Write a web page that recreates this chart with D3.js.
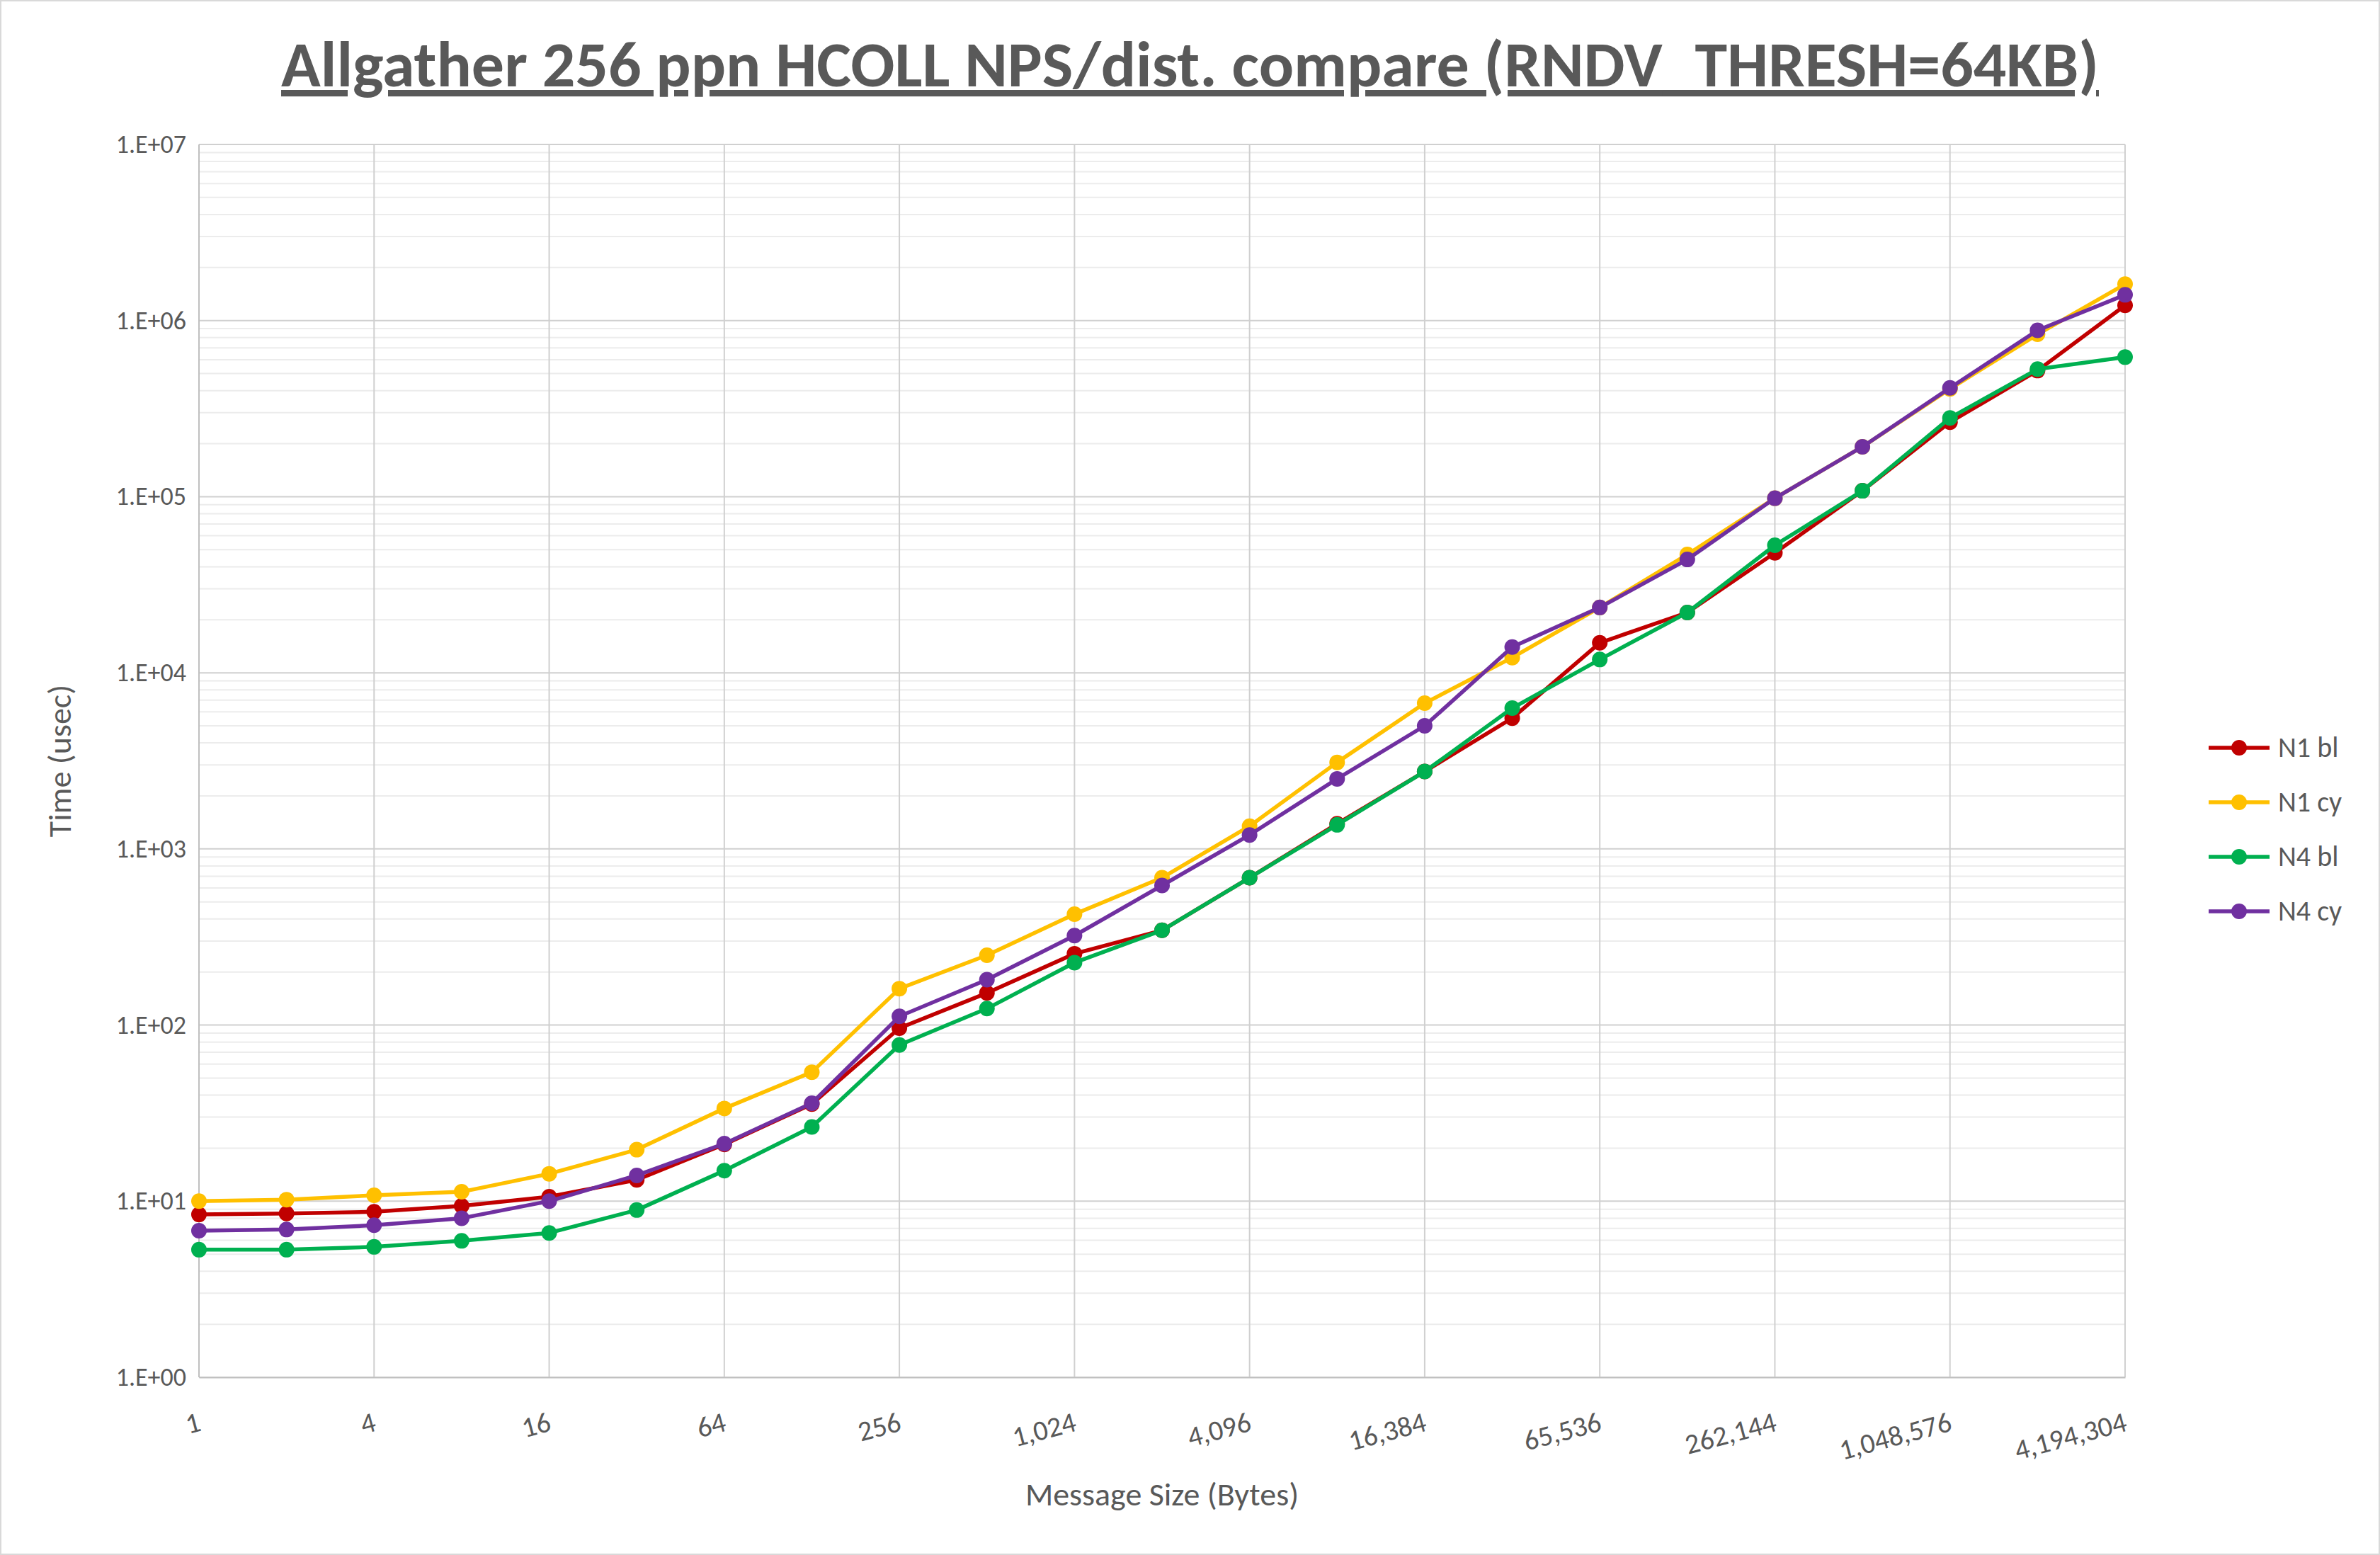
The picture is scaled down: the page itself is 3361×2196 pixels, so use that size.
<!DOCTYPE html>
<html><head><meta charset="utf-8">
<script src="https://cdn.jsdelivr.net/npm/d3@7"></script>
<style>body{margin:0;background:#fff}svg{display:block}</style>
</head><body>
<script>
const sizes = [1,2,4,8,16,32,64,128,256,512,1024,2048,4096,8192,16384,32768,65536,131072,262144,524288,1048576,2097152,4194304];
const tickSizes = [1,4,16,64,256,1024,4096,16384,65536,262144,1048576,4194304];
const yTickLabels = ["1.E+00","1.E+01","1.E+02","1.E+03","1.E+04","1.E+05","1.E+06","1.E+07"];
const seriesNames = ["N1 bl","N1 cy","N4 bl","N4 cy"];
const seriesColors = ["#C00000","#FFC000","#00B050","#7030A0"];
const n1bl = [8.4,8.5,8.7,9.4,10.6,13.2,21,35.6,96,152,254,345,686,1390,2750,5530,14800,22000,48000,108000,265000,520000,1220000];
const n1cy = [10,10.2,10.8,11.3,14.3,19.6,33.6,54,161,249,426,686,1347,3100,6720,12200,23500,47000,98000,192000,409000,836000,1610000];
const n4bl = [5.3,5.3,5.5,5.95,6.6,8.9,14.9,26.4,77,124,226,345,686,1370,2750,6300,11900,22000,53000,108000,280000,530000,620000];
const n4cy = [6.8,6.9,7.3,8.0,10.0,14.0,21.2,36,112,181,322,620,1200,2500,5000,14000,23500,44000,98000,192000,415000,880000,1400000];
const allSeries = [n1bl,n1cy,n4bl,n4cy];

const W=3361,H=2196;
const svg=d3.select("body").append("svg").attr("width",W).attr("height",H);
svg.append("rect").attr("x",1).attr("y",1).attr("width",W-2).attr("height",H-2).attr("fill","#fff").attr("stroke","#d9d9d9").attr("stroke-width",2);
const L=281,R=3001,T=204,B=1945;
const x=d3.scaleLog().base(2).domain([1,4194304]).range([L,R]);
const y=d3.scaleLog().domain([1,1e7]).range([B,T]);
const font="Calibri, Carlito, 'Open Sans', 'Liberation Sans', sans-serif";

const minor=[];
for(let d=0;d<7;d++)for(let m=2;m<=9;m++)minor.push(m*Math.pow(10,d));
svg.append("g").selectAll("line").data(minor).join("line")
 .attr("x1",L).attr("x2",R).attr("y1",d=>y(d)).attr("y2",d=>y(d)).attr("stroke","#ececec").attr("stroke-width",2);
const major=d3.range(0,8).map(d=>Math.pow(10,d));
svg.append("g").selectAll("line").data(major).join("line")
 .attr("x1",L).attr("x2",R).attr("y1",d=>y(d)).attr("y2",d=>y(d)).attr("stroke","#d0d0d0").attr("stroke-width",2);
svg.append("g").selectAll("line").data(tickSizes).join("line")
 .attr("x1",d=>x(d)).attr("x2",d=>x(d)).attr("y1",T).attr("y2",B).attr("stroke","#d0d0d0").attr("stroke-width",2);
svg.append("line").attr("x1",L).attr("x2",L).attr("y1",T).attr("y2",B).attr("stroke","#bfbfbf").attr("stroke-width",2);
svg.append("line").attr("x1",R).attr("x2",R).attr("y1",T).attr("y2",B).attr("stroke","#d0d0d0").attr("stroke-width",2);

const ya=svg.append("g").attr("transform",`translate(${L},0)`).call(d3.axisLeft(y).tickValues(major).tickFormat((d,i)=>yTickLabels[i]).tickSize(0).tickPadding(18));
ya.select(".domain").remove();
ya.selectAll("text").attr("font-family",font).attr("font-size",36).attr("fill","#595959");
const xa=svg.append("g").attr("transform",`translate(0,${B})`).call(d3.axisBottom(x).tickValues(tickSizes).tickFormat(d3.format(",")).tickSize(0).tickPadding(0));
xa.select(".domain").attr("stroke","#bfbfbf").attr("stroke-width",2);
xa.selectAll("text").attr("font-family",font).attr("font-size",40).attr("fill","#595959")
 .attr("text-anchor","end").attr("dy",0).attr("transform","translate(4,75) rotate(-15)");

const line=d3.line().x((d,i)=>x(sizes[i])).y(d=>y(d));
allSeries.forEach((s,k)=>{
 svg.append("path").datum(s).attr("d",line).attr("fill","none").attr("stroke",seriesColors[k]).attr("stroke-width",5.5).attr("stroke-linejoin","round");
 svg.append("g").selectAll("circle").data(s).join("circle").attr("cx",(d,i)=>x(sizes[i])).attr("cy",d=>y(d)).attr("r",11).attr("fill",seriesColors[k]);
});

svg.append("text").attr("x",(W)/2).attr("y",122).attr("text-anchor","middle").attr("font-family",font).attr("font-size",92).attr("font-weight","bold").attr("fill","#595959").attr("text-decoration","underline")
 .text("Allgather 256 ppn HCOLL NPS/dist. compare (RNDV_THRESH=64KB)");
svg.append("text").attr("transform",`translate(100,${(T+B)/2}) rotate(-90)`).attr("text-anchor","middle").attr("font-family",font).attr("font-size",46).attr("fill","#595959").text("Time (usec)");
svg.append("text").attr("x",(L+R)/2).attr("y",2126).attr("text-anchor","middle").attr("font-family",font).attr("font-size",46).attr("fill","#595959").text("Message Size (Bytes)");

seriesNames.forEach((n,k)=>{
 const ly=1056+k*77, lx=3119;
 svg.append("line").attr("x1",lx).attr("x2",lx+86).attr("y1",ly).attr("y2",ly).attr("stroke",seriesColors[k]).attr("stroke-width",5.5);
 svg.append("circle").attr("cx",lx+43).attr("cy",ly).attr("r",11).attr("fill",seriesColors[k]);
 svg.append("text").attr("x",lx+98).attr("y",ly+13).attr("font-family",font).attr("font-size",40).attr("fill","#595959").text(n);
});
</script>
</body></html>
